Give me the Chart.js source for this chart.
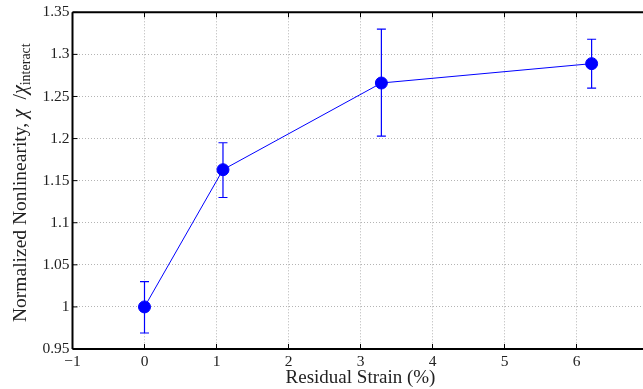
<!DOCTYPE html>
<html>
<head>
<meta charset="utf-8">
<script src="https://cdn.jsdelivr.net/npm/chart.js@4.4.1/dist/chart.umd.min.js"></script>
<style>
  html, body { margin: 0; padding: 0; background: #fff; overflow: hidden; }
  #wrap { width: 643px; height: 389px; overflow: hidden; }
  canvas { display: block; }
</style>
</head>
<body>
<div id="wrap"><canvas id="c" width="660" height="389"></canvas></div>
<script>
// Residual strain (%) and normalized nonlinearity with error limits
const strain = [0, 1.09, 3.29, 6.21];
const nonlinearity = [1.000, 1.163, 1.266, 1.289];
const errLow = [0.969, 1.130, 1.203, 1.260];
const errHigh = [1.030, 1.195, 1.330, 1.318];

const xTicks = [-1, 0, 1, 2, 3, 4, 5, 6];
const yTickLabels = ['0.95', '1', '1.05', '1.1', '1.15', '1.2', '1.25', '1.3', '1.35'];

const SERIF = "'Liberation Serif', 'DejaVu Serif', serif";
const BLUE = 'rgb(0,0,255)';

const points = strain.map((x, i) => ({ x: x, y: nonlinearity[i] }));

// error bars, axes frame with inward ticks, axis titles
const decorations = {
  id: 'decorations',
  beforeDatasetsDraw(chart) {
    const ctx = chart.ctx;
    const xs = chart.scales.x, ys = chart.scales.y;

    // error bars
    ctx.save();
    ctx.strokeStyle = BLUE;
    ctx.lineWidth = 1.2;
    const cap = 4.5;
    strain.forEach((x, i) => {
      const px = xs.getPixelForValue(x);
      const pLo = ys.getPixelForValue(errLow[i]);
      const pHi = ys.getPixelForValue(errHigh[i]);
      ctx.beginPath();
      ctx.moveTo(px, pLo); ctx.lineTo(px, pHi);
      ctx.moveTo(px - cap, pLo); ctx.lineTo(px + cap, pLo);
      ctx.moveTo(px - cap, pHi); ctx.lineTo(px + cap, pHi);
      ctx.stroke();
    });
    ctx.restore();
  },
  afterDraw(chart) {
    const ctx = chart.ctx;
    const xs = chart.scales.x, ys = chart.scales.y;
    const a = chart.chartArea;

    ctx.save();
    // axes frame
    ctx.strokeStyle = '#000';
    ctx.lineWidth = 2;
    ctx.beginPath();
    ctx.moveTo(a.left, a.top); ctx.lineTo(a.right, a.top);
    ctx.moveTo(a.left, a.top); ctx.lineTo(a.left, a.bottom);
    ctx.moveTo(a.left, a.bottom); ctx.lineTo(a.right, a.bottom);
    ctx.moveTo(a.right, a.top); ctx.lineTo(a.right, a.bottom);
    ctx.stroke();

    // inward ticks
    ctx.lineWidth = 1;
    const tl = 5;
    ctx.beginPath();
    xTicks.forEach(v => {
      const px = xs.getPixelForValue(v);
      ctx.moveTo(px, a.bottom); ctx.lineTo(px, a.bottom - tl);
      ctx.moveTo(px, a.top); ctx.lineTo(px, a.top + tl);
    });
    yTickLabels.forEach(t => {
      const py = ys.getPixelForValue(parseFloat(t));
      ctx.moveTo(a.left, py); ctx.lineTo(a.left + tl, py);
      ctx.moveTo(a.right, py); ctx.lineTo(a.right - tl, py);
    });
    ctx.stroke();

    // x axis title
    ctx.fillStyle = '#222';
    ctx.font = '19px ' + SERIF;
    ctx.textAlign = 'center';
    ctx.textBaseline = 'alphabetic';
    ctx.fillText('Residual Strain (%)', (a.left + a.right) / 2, 383);

    // y axis title, rotated, with subscript
    ctx.translate(26, 322);
    ctx.rotate(-Math.PI / 2);
    ctx.textAlign = 'left';
    const parts = [
      { t: 'Normalized Nonlinearity, ', f: '19.5px ' + SERIF, dy: 0 },
      { t: '\u03C7', f: 'italic 20px ' + SERIF, dy: 0 },
      { t: '  /', f: '19.5px ' + SERIF, dy: 0 },
      { t: '\u03C7', f: 'italic 20px ' + SERIF, dy: 0 },
      { t: 'interact', f: '14px ' + SERIF, dy: 4 }
    ];
    let cx = 0;
    parts.forEach(p => {
      ctx.font = p.f;
      ctx.fillText(p.t, cx, p.dy);
      cx += ctx.measureText(p.t).width;
    });
    ctx.restore();
  }
};

new Chart(document.getElementById('c'), {
  type: 'scatter',
  data: {
    datasets: [{
      data: points,
      showLine: true,
      borderColor: BLUE,
      borderWidth: 1,
      backgroundColor: BLUE,
      pointBackgroundColor: BLUE,
      pointBorderColor: BLUE,
      pointBorderWidth: 1,
      pointRadius: 6,
      pointHoverRadius: 6,
      tension: 0
    }]
  },
  options: {
    responsive: false,
    devicePixelRatio: 1,
    animation: false,
    events: [],
    layout: { padding: { top: 11, right: 11.5, left: 0, bottom: 0 } },
    plugins: {
      legend: { display: false },
      tooltip: { enabled: false }
    },
    scales: {
      x: {
        type: 'linear',
        min: -1,
        max: 7,
        afterFit(s) { s.height = 40; },
        afterBuildTicks(s) { s.ticks = xTicks.concat([7]).map(v => ({ value: v })); },
        ticks: {
          autoSkip: false,
          maxRotation: 0,
          padding: 4,
          color: '#222',
          font: { family: SERIF, size: 15.5 },
          callback(v) {
            if (v === 7) return '';
            return v < 0 ? '\u2212' + Math.abs(v) : String(v);
          }
        },
        grid: { color: '#b4b4b4', lineWidth: 1, drawTicks: false },
        border: { display: false, dash: [1, 2] }
      },
      y: {
        type: 'linear',
        min: 0.95,
        max: 1.35,
        afterFit(s) { s.width = 72.5; },
        afterBuildTicks(s) { s.ticks = yTickLabels.map(t => ({ value: parseFloat(t) })); },
        ticks: {
          autoSkip: false,
          padding: 3,
          color: '#222',
          font: { family: SERIF, size: 15.5 },
          callback(v, i) { return yTickLabels[i]; }
        },
        grid: { color: '#b4b4b4', lineWidth: 1, drawTicks: false },
        border: { display: false, dash: [1, 2] }
      }
    }
  },
  plugins: [decorations]
});
</script>
</body>
</html>
